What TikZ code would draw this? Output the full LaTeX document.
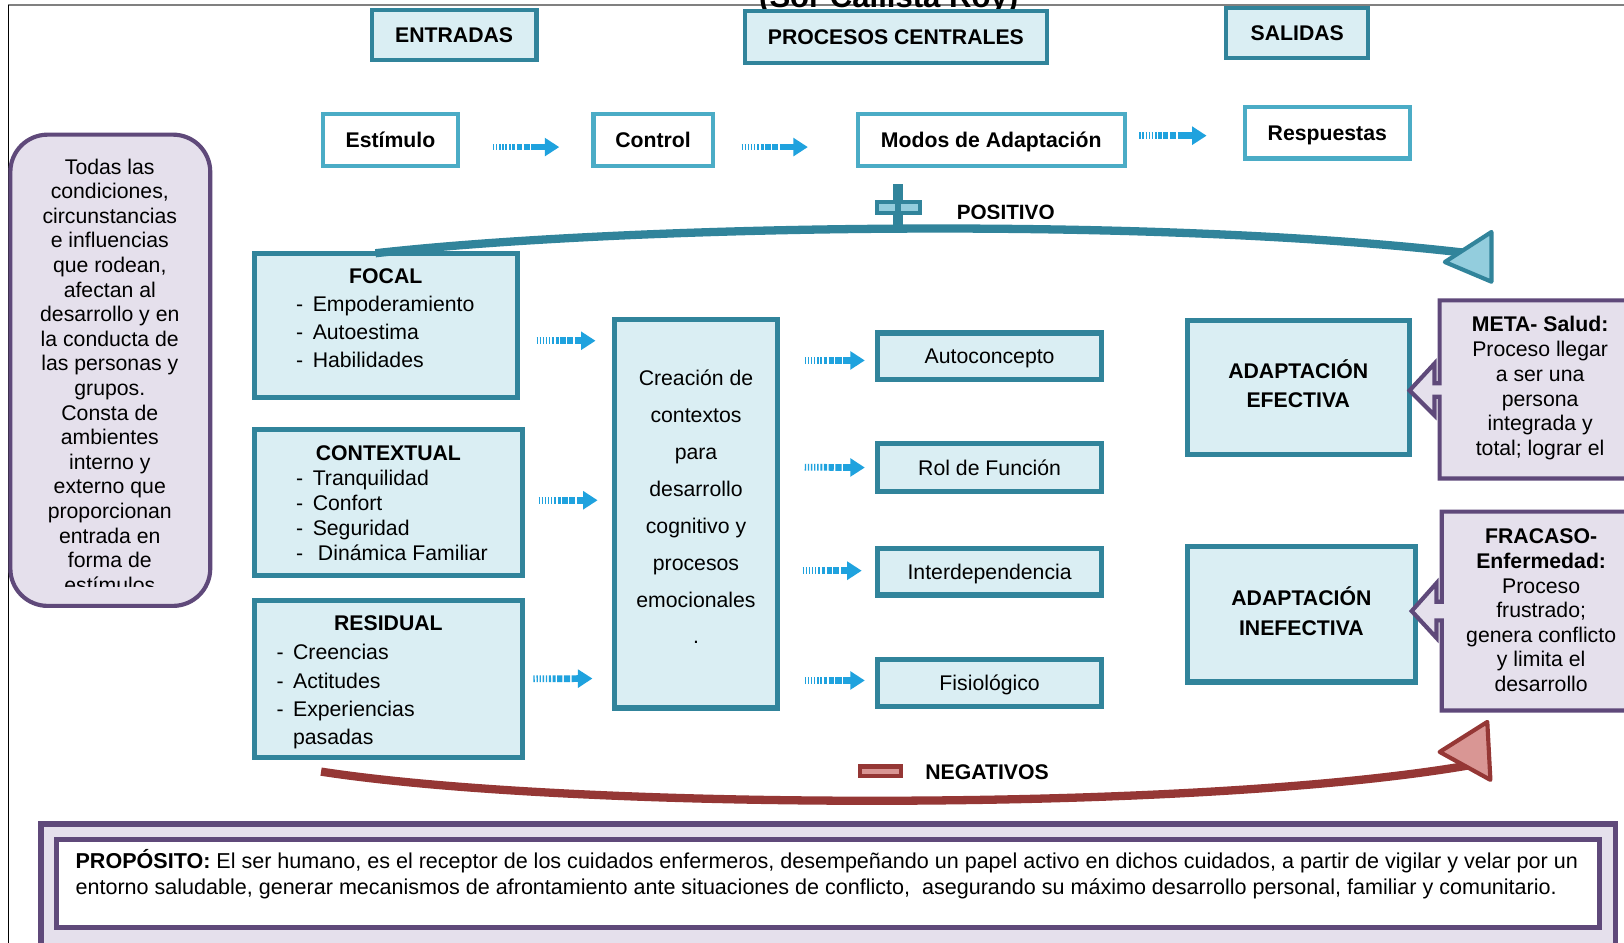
\documentclass[tikz,border=0pt]{standalone}
\usepackage{fontspec}
\setmainfont{Liberation Sans}
\usetikzlibrary{arrows.meta}
\definecolor{cTeal}{HTML}{31849B}
\definecolor{cLight}{HTML}{DAEEF3}
\definecolor{cSky}{HTML}{4BACC6}
\definecolor{cPurple}{HTML}{5F497A}
\definecolor{cLav}{HTML}{E5E0EC}
\definecolor{cRed}{HTML}{953735}
\definecolor{cPink}{HTML}{D99694}
\definecolor{cArrow}{HTML}{1FA2DE}
\definecolor{cTri}{HTML}{93CDDD}
\newcommand{\fs}[2]{\fontsize{#1}{#2}\selectfont}
\newcommand{\dashA}{\makebox[16pt][l]{-}}
\begin{document}
\begin{tikzpicture}[x=1pt,y=-1pt,
  every node/.style={inner sep=0pt, outer sep=0pt},
  hdr/.style={draw=cTeal, fill=cLight, line width=4pt, font=\fs{20.5}{24}\bfseries, text height=14.7pt, text depth=0pt},
  wbox/.style={draw=cSky, fill=white, line width=4pt, font=\fs{20.5}{24}\bfseries, text height=14.7pt, text depth=0pt},
  cbox/.style={draw=cTeal, fill=cLight, line width=5pt},
  mbox/.style={cbox, font=\fs{20.5}{24}, text height=14.7pt, text depth=0pt},
  sarrow/.style={draw=cArrow, line width=6.5pt, dash pattern=on 1.3pt off 1.7pt on 1.3pt off 1.7pt on 1.3pt off 1.7pt on 1.3pt off 1.7pt on 1.3pt off 1.7pt on 2pt off 1.5pt on 3pt off 1.5pt on 5pt off 1.5pt on 6pt off 1.5pt on 100pt off 1pt, -{Triangle[length=14pt,width=17pt]}},
  callout/.style={draw=cPurple, fill=cLav, line width=4pt},
]
\useasboundingbox (0,0) rectangle (1568,910);
\fill[white] (0,0) rectangle (1568,910);

% frame and clipped title
\draw[gray, line width=1.5pt] (8,5) -- (1568,5);
\draw[black, line width=1pt] (8,5) -- (8,910);
\node[anchor=base, font=\fs{30}{34}\bfseries] (title) at (858,7) {(Sor Callista Roy)};

% headers
\node[hdr, minimum width=159pt, minimum height=48pt] (entradas) at (438.5,34) {ENTRADAS};
\node[hdr, minimum width=292pt, minimum height=50pt] (procesos) at (865,36) {PROCESOS CENTRALES};
\node[hdr, minimum width=137pt, minimum height=48pt] (salidas) at (1252.5,32) {SALIDAS};

% row 2
\node[wbox, minimum width=130pt, minimum height=50pt] (estimulo) at (377,135) {Estímulo};
\node[wbox, minimum width=115pt, minimum height=50pt] (control) at (630.5,135) {Control};
\node[wbox, minimum width=258pt, minimum height=50pt] (modos) at (957,135) {Modos de Adaptación};
\node[wbox, minimum width=159pt, minimum height=50pt] (respuestas) at (1281.5,128) {Respuestas};

\draw[sarrow, shorten <=34pt, shorten >=33pt] ([yshift=-7pt]estimulo.east) -- ([yshift=-7pt]control.west);
\draw[sarrow, shorten <=28pt, shorten >=48pt] ([yshift=-7pt]control.east) -- ([yshift=-7pt]modos.west);
\draw[sarrow, shorten <=14pt, shorten >=37pt] ([yshift=4pt]modos.east) -- ([yshift=-3pt]respuestas.west);

% left environment box
\node[draw=cPurple, fill=cLav, line width=4pt, rounded corners=36pt, minimum width=193pt, minimum height=455pt] (entorno) at (106.5,357.5) {};
\begin{scope}
\clip (10,130) rectangle (205,566);
\node[font=\fs{20.5}{23.76}, align=center, anchor=north] (entornotxt) at (106,151.4) {\strut Todas las\\condiciones,\\circunstancias\\e influencias\\que rodean,\\afectan al\\desarrollo y en\\la conducta de\\las personas y\\grupos.\\Consta de\\ambientes\\interno y\\externo que\\proporcionan\\entrada en\\forma de\\estímulos\strut};
\end{scope}

% stimulus boxes
\node[cbox, minimum width=254pt, minimum height=139pt] (focal) at (372.5,314) {};
\node[font=\fs{20.5}{24}\bfseries] (focalt) at (372.5,267) {FOCAL};
\node[font=\fs{20.5}{27}, align=left, anchor=north west] (focall) at (286,282.1) {\strut\dashA Empoderamiento\\\dashA Autoestima\\\dashA Habilidades\strut};

\node[cbox, minimum width=259pt, minimum height=141pt] (contextual) at (375,485) {};
\node[font=\fs{20.5}{24}\bfseries] (contextualt) at (375,438) {CONTEXTUAL};
\node[font=\fs{20.5}{24}, align=left, anchor=north west] (contextuall) at (286,452.2) {\strut\dashA Tranquilidad\\\dashA Confort\\\dashA Seguridad\\\dashA\hspace{5pt}Dinámica Familiar\strut};

\node[cbox, minimum width=259pt, minimum height=152pt] (residual) at (375,655.5) {};
\node[font=\fs{20.5}{24}\bfseries] (residualt) at (375,602) {RESIDUAL};
\node[font=\fs{20.5}{27.3}, align=left, anchor=north west] (residuall) at (267,617.9) {\strut\dashA Creencias\\\dashA Actitudes\\\dashA Experiencias\\\makebox[16pt]{}pasadas\strut};

% central process
\node[cbox, minimum width=157pt, minimum height=375pt] (creacion) at (672,496) {};
\node[font=\fs{20.5}{35.6}, align=center, anchor=north] (creaciont) at (672,347.6) {\strut Creación de\\contextos\\para\\desarrollo\\cognitivo y\\procesos\\emocionales\\.\strut};

\draw[sarrow, shorten <=18.5pt, shorten >=18.5pt] ([yshift=-15pt]focal.east) -- ([yshift=167pt]creacion.west);
\draw[sarrow, shorten <=15.5pt, shorten >=16.5pt] ([yshift=2pt]contextual.east) -- ([yshift=13pt]creacion.west);
\draw[sarrow, shorten <=10.5pt, shorten >=21.5pt] (residual.east) -- ([yshift=-159pt]creacion.west);

% modes
\node[mbox, minimum width=216pt, minimum height=45pt] (auto) at (955.5,344) {Autoconcepto};
\node[mbox, minimum width=216pt, minimum height=46pt] (rol) at (955.5,451.5) {Rol de Función};
\node[mbox, minimum width=216pt, minimum height=45pt] (inter) at (955.5,552) {Interdependencia};
\node[mbox, minimum width=216pt, minimum height=46pt] (fisio) at (955.5,659.5) {Fisiológico};

\draw[sarrow, shorten <=26.5pt, shorten >=12.5pt] ([yshift=148pt]creacion.east) -- ([yshift=-4pt]auto.west);
\draw[sarrow, shorten <=26.5pt, shorten >=12.5pt] ([yshift=45pt]creacion.east) -- (rol.west);
\draw[sarrow, shorten <=24.5pt, shorten >=15.5pt] ([yshift=-55pt]creacion.east) -- ([yshift=1pt]inter.west);
\draw[sarrow, shorten <=26.5pt, shorten >=12.5pt] ([yshift=-161pt]creacion.east) -- ([yshift=2.5pt]fisio.west);

% outcomes
\node[cbox, minimum width=214pt, minimum height=129pt, font=\fs{20.5}{28}\bfseries, align=center] (efectiva) at (1253.5,374) {\strut ADAPTACIÓN\\EFECTIVA\strut};
\node[cbox, minimum width=220pt, minimum height=131pt, font=\fs{20.5}{29}\bfseries, align=center] (inefectiva) at (1256.5,593) {\strut ADAPTACIÓN\\INEFECTIVA\strut};

% callouts
\path[callout] (1390,290) -- (1585,290) -- (1585,462) -- (1390,462) -- (1390,383) -- (1385,383) -- (1385,401) -- (1361,377) -- (1385,351) -- (1385,370) -- (1390,370) -- cycle;
\begin{scope}
\clip (1392,292) rectangle (1585,455);
\node[font=\fs{20.5}{24}, align=center, anchor=north] (metatxt) at (1487,303.2) {\strut\textbf{META- Salud:}\\Proceso llegar\\a ser una\\persona\\integrada y\\total; lograr el\strut};
\end{scope}

\path[callout] (1392,494) -- (1585,494) -- (1585,686) -- (1392,686) -- (1392,599) -- (1387,599) -- (1387,616) -- (1363,590) -- (1387,563) -- (1387,581) -- (1392,581) -- cycle;
\node[font=\fs{20.5}{23.8}, align=center, anchor=north] (fracasotxt) at (1488,508.3) {\strut\textbf{FRACASO-}\\\textbf{Enfermedad:}\\Proceso\\frustrado;\\genera conflicto\\y limita el\\desarrollo\strut};

% positive feedback arc
\coordinate (posEnd) at (1414,244);
\draw[cTeal, line width=8pt] ([xshift=-10pt]focal.north) .. controls (600,218) and (1100,208) .. (posEnd);
\filldraw[fill=cTri, draw=cTeal, line width=4pt, line join=round] (1440,224) -- (1440,272) -- (1395,253) -- cycle;
\fill[cTeal] (862,178) rectangle (872,225);
\fill[cTeal] (845,193) rectangle (890,208);
\fill[cTri] (849,197) rectangle (886,204);
\fill[cTeal] (864,196) rectangle (870,205);
\begin{scope}
\clip (900,180) rectangle (1050,211);
\node[font=\fs{20}{24}\bfseries] (positivo) at (971,205) {POSITIVO};
\end{scope}

% negative feedback arc
\coordinate (negStart) at (310,745);
\coordinate (negEnd) at (1418,739);
\draw[cRed, line width=8pt] (negStart) .. controls (550,782) and (1150,785) .. (negEnd);
\filldraw[fill=cPink, draw=cRed, line width=4pt, line join=round] (1436,697) -- (1439,753) -- (1390,726) -- cycle;
\fill[cRed] (828,738) rectangle (872,751);
\fill[cPink] (832,742) rectangle (868,747);
\node[font=\fs{20.5}{24}\bfseries] (negativos) at (953,746) {NEGATIVOS};

% purpose
\node[draw=cPurple, fill=cLav, line width=5pt, minimum width=1520pt, minimum height=140pt, anchor=north west] (propout) at (39.5,795.5) {};
\node[draw=cPurple, fill=white, line width=5pt, minimum width=1490pt, minimum height=85pt] (prop) at (799.5,853) {};
\node[font=\fs{20.8}{25}, align=left, anchor=south west] (proptxt) at (73,871.5) {\strut\textbf{PROPÓSITO:} El ser humano, es el receptor de los cuidados enfermeros, desempeñando un papel activo en dichos cuidados, a partir de vigilar y velar por un\\entorno saludable, generar mecanismos de afrontamiento ante situaciones de conflicto, \ asegurando su máximo desarrollo personal, familiar y comunitario.\strut};
\end{tikzpicture}
\end{document}
